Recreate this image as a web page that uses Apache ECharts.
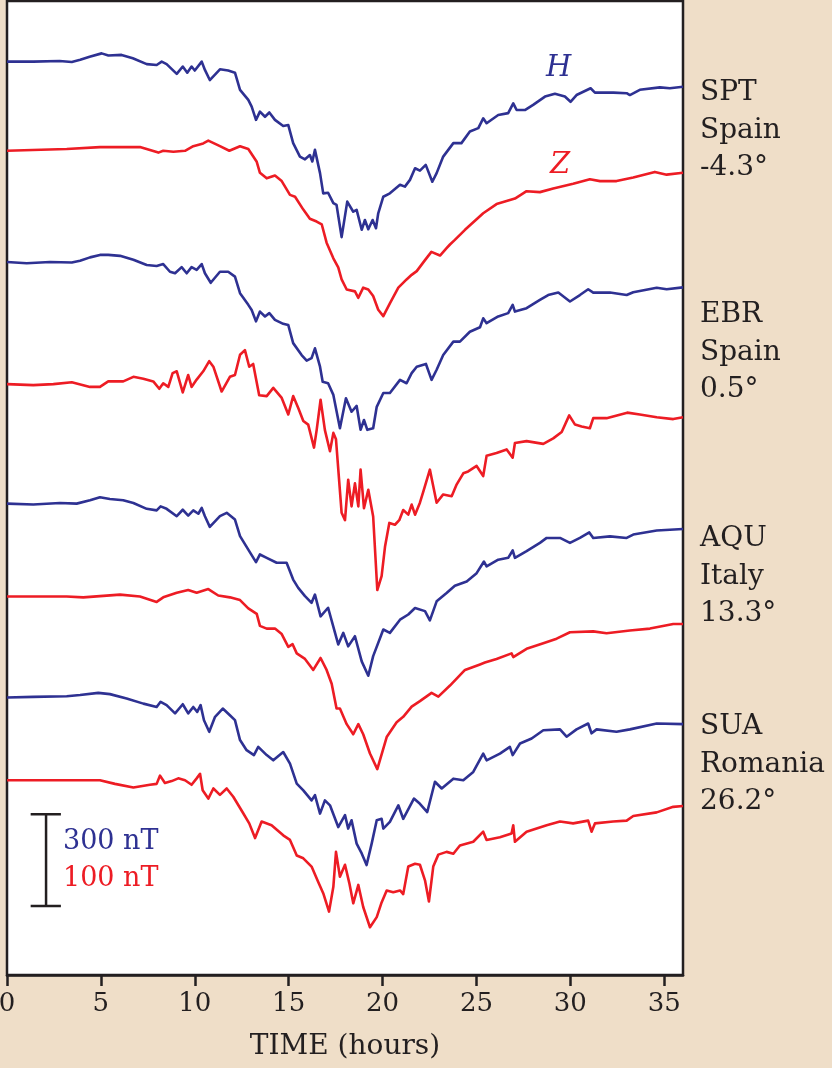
<!DOCTYPE html>
<html>
<head>
<meta charset="utf-8">
<title>Magnetic storm H and Z traces</title>
<script src="https://cdn.jsdelivr.net/npm/echarts@6/dist/echarts.min.js"></script>
<style>
  html, body { margin: 0; padding: 0; background: #efdec8; }
  #chart { width: 832px; height: 1068px; }
</style>
</head>
<body>
<div id="chart"></div>
<script>
// time (hours) vs deflection (nT), one pair list per trace
const sptH = [[0,0],[1.4,0],[2.8,2],[3.45,-1],[3.9,6],[4.4,16],[5.04,27],[5.4,20],[6.1,22],[6.7,11],[7.44,-8],[7.97,-11],[8.24,0],[8.5,-8],[9.04,-40],[9.36,-16],[9.6,-36],[9.83,-16],[10.0,-29],[10.37,0],[10.54,-27],[10.8,-60],[11.34,-25],[11.78,-29],[12.14,-36],[12.41,-92],[12.85,-125],[13.03,-147],[13.26,-190],[13.47,-163],[13.74,-180],[13.97,-166],[14.27,-190],[14.71,-210],[14.98,-207],[15.24,-266],[15.6,-310],[15.87,-319],[16.13,-305],[16.26,-326],[16.4,-288],[16.67,-364],[16.84,-430],[17.1,-428],[17.38,-462],[17.55,-468],[17.82,-573],[18.12,-457],[18.44,-490],[18.62,-484],[18.89,-549],[19.06,-517],[19.24,-547],[19.47,-517],[19.65,-544],[19.77,-495],[20.04,-441],[20.39,-430],[20.93,-402],[21.19,-408],[21.46,-386],[21.73,-348],[21.99,-356],[22.3,-337],[22.65,-392],[22.88,-364],[23.23,-310],[23.77,-266],[24.2,-266],[24.65,-228],[25.1,-217],[25.36,-185],[25.54,-201],[26.16,-174],[26.69,-168],[26.96,-136],[27.14,-158],[27.58,-158],[28.02,-141],[28.65,-114],[29.18,-105],[29.71,-114],[30.01,-131],[30.33,-109],[31.08,-87],[31.31,-101],[32.3,-101],[33.0,-103],[33.17,-109],[33.7,-92],[34.77,-84],[35.3,-87],[36,-82]];

const sptZ = [[0,0],[3.18,2],[4.95,4],[7.08,4],[8.06,-2],[8.32,0],[8.86,-1],[9.48,0],[9.92,5],[10.45,8],[10.72,11],[11.34,5],[11.84,0],[12.41,5],[12.85,2],[13.3,-12],[13.47,-24],[13.83,-30],[14.27,-27],[14.63,-33],[15.07,-48],[15.34,-50],[15.78,-64],[16.13,-74],[16.49,-77],[16.76,-80],[17.02,-100],[17.38,-117],[17.64,-127],[17.82,-140],[18.09,-151],[18.53,-153],[18.71,-160],[18.97,-149],[19.24,-151],[19.5,-158],[19.77,-173],[20.04,-180],[20.39,-166],[20.84,-149],[21.28,-140],[21.55,-135],[21.82,-131],[22.26,-119],[22.6,-110],[23.06,-114],[23.41,-106],[23.59,-102],[23.85,-97],[24.39,-86],[25.36,-68],[26.07,-58],[27.05,-52],[27.67,-44],[28.38,-45],[29.09,-41],[30.15,-36],[31.04,-31],[31.58,-33],[32.46,-33],[33.35,-29],[34.5,-23],[35.13,-26],[36,-24]];

const ebrH = [[0,0],[1.05,-4],[2.29,0],[3.45,-2],[3.89,4],[4.42,15],[4.95,23],[5.39,23],[6.02,20],[6.73,7],[7.44,-10],[7.97,-13],[8.32,-7],[8.68,-32],[8.95,-37],[9.3,-17],[9.57,-37],[9.83,-17],[10.1,-26],[10.37,-7],[10.54,-37],[10.85,-68],[11.34,-32],[11.78,-32],[12.14,-48],[12.41,-102],[12.85,-140],[13.03,-157],[13.26,-194],[13.47,-162],[13.74,-178],[13.97,-167],[14.27,-189],[14.71,-202],[14.98,-206],[15.24,-265],[15.69,-304],[15.96,-322],[16.22,-314],[16.4,-282],[16.67,-342],[16.81,-391],[17.1,-396],[17.38,-434],[17.73,-543],[18.05,-445],[18.35,-489],[18.62,-470],[18.83,-548],[19.01,-516],[19.19,-548],[19.5,-543],[19.69,-473],[20.04,-428],[20.39,-428],[20.93,-385],[21.28,-396],[21.55,-363],[21.82,-342],[22.31,-333],[22.61,-385],[22.88,-352],[23.23,-304],[23.77,-260],[24.12,-260],[24.65,-228],[25.19,-213],[25.36,-184],[25.54,-200],[26.16,-178],[26.69,-167],[26.93,-140],[27.05,-162],[27.67,-151],[28.38,-124],[28.82,-108],[29.36,-100],[29.98,-129],[30.51,-108],[30.95,-89],[31.22,-100],[32.11,-100],[33.0,-108],[33.35,-99],[34.6,-84],[35.13,-89],[36,-83]];

const ebrZ = [[0,0],[1.4,-1],[2.47,0],[3.45,2],[4.42,-3],[4.95,-3],[5.39,3],[6.19,3],[6.73,8],[7.26,6],[7.79,3],[8.11,-5],[8.32,1],[8.59,-3],[8.82,12],[9.04,14],[9.36,-9],[9.65,10],[9.83,-3],[10.1,5],[10.45,14],[10.77,25],[10.99,19],[11.43,-8],[11.87,8],[12.14,10],[12.41,32],[12.67,37],[12.9,19],[13.11,22],[13.43,-12],[13.83,-13],[14.18,-4],[14.63,-15],[14.98,-33],[15.24,-13],[15.51,-26],[15.78,-40],[16.04,-44],[16.35,-69],[16.49,-50],[16.7,-17],[16.93,-50],[17.2,-73],[17.38,-53],[17.52,-60],[17.82,-140],[18.0,-148],[18.17,-104],[18.35,-133],[18.53,-108],[18.71,-133],[18.83,-93],[19.01,-135],[19.24,-115],[19.5,-144],[19.72,-224],[19.95,-209],[20.13,-177],[20.36,-151],[20.66,-153],[20.89,-148],[21.1,-137],[21.37,-142],[21.55,-131],[21.73,-142],[21.99,-129],[22.17,-117],[22.52,-93],[22.67,-108],[22.88,-129],[23.23,-120],[23.68,-122],[23.95,-109],[24.3,-97],[24.56,-95],[25.01,-89],[25.36,-100],[25.54,-78],[26.07,-75],[26.61,-71],[26.93,-80],[27.05,-64],[27.67,-62],[28.56,-65],[29.09,-59],[29.54,-52],[29.94,-34],[30.25,-44],[30.6,-46],[31.04,-48],[31.22,-37],[31.93,-37],[33.03,-31],[33.7,-33],[34.6,-36],[35.48,-38],[36,-36]];

const aquH = [[0,0],[1.4,-3],[2.82,2],[3.71,0],[4.42,11],[4.95,21],[5.48,15],[6.19,11],[6.73,2],[7.44,-17],[7.97,-22],[8.18,-9],[8.5,-17],[9.04,-41],[9.36,-20],[9.65,-39],[9.92,-22],[10.19,-33],[10.37,-14],[10.54,-41],[10.8,-76],[11.34,-41],[11.7,-30],[12.14,-52],[12.41,-106],[12.85,-150],[13.26,-191],[13.47,-166],[13.83,-177],[14.36,-193],[14.89,-193],[15.24,-248],[15.51,-275],[15.87,-302],[16.22,-324],[16.4,-297],[16.7,-368],[17.1,-340],[17.47,-422],[17.64,-460],[17.91,-422],[18.17,-466],[18.53,-433],[18.89,-515],[19.24,-562],[19.5,-498],[20.04,-411],[20.39,-422],[20.93,-379],[21.37,-362],[21.73,-341],[22.26,-351],[22.52,-381],[22.88,-319],[23.41,-292],[23.85,-268],[24.48,-254],[25.01,-227],[25.4,-189],[25.54,-205],[26.16,-183],[26.69,-177],[26.93,-153],[27.05,-177],[27.67,-155],[28.38,-128],[28.74,-112],[29.45,-112],[29.98,-128],[30.51,-112],[31.01,-94],[31.22,-112],[32.11,-107],[33.0,-112],[33.35,-101],[34.6,-88],[36,-83]];

const aquZ = [[0,0],[1.4,0],[3.18,0],[4.06,-1],[6.02,2],[7.08,0],[7.97,-6],[8.32,-1],[9.04,4],[9.65,7],[10.1,4],[10.72,8],[11.25,1],[11.87,-1],[12.41,-4],[12.85,-13],[13.3,-19],[13.47,-32],[13.83,-35],[14.27,-35],[14.63,-41],[14.98,-55],[15.21,-52],[15.43,-62],[15.87,-68],[16.31,-80],[16.7,-67],[17.02,-80],[17.29,-95],[17.55,-122],[17.73,-122],[18.09,-139],[18.44,-150],[18.71,-139],[18.97,-150],[19.33,-171],[19.72,-188],[20.22,-153],[20.75,-137],[21.1,-131],[21.55,-120],[21.99,-114],[22.61,-105],[22.97,-109],[23.59,-97],[24.39,-80],[25.19,-74],[25.45,-72],[26.07,-68],[26.87,-62],[26.96,-66],[27.67,-57],[28.56,-51],[29.27,-46],[29.98,-39],[31.22,-38],[31.93,-40],[33.17,-37],[34.24,-35],[35.48,-30],[36,-30]];

const suaH = [[0,0],[1.4,2],[3.18,4],[3.89,8],[4.86,15],[5.48,11],[6.37,-3],[7.26,-20],[7.97,-31],[8.18,-14],[8.5,-25],[8.95,-52],[9.36,-22],[9.65,-52],[9.92,-31],[10.13,-47],[10.31,-25],[10.49,-74],[10.77,-112],[11.08,-63],[11.49,-36],[11.87,-58],[12.14,-74],[12.41,-139],[12.76,-172],[13.15,-188],[13.38,-161],[13.83,-188],[14.18,-205],[14.71,-178],[15.07,-216],[15.43,-281],[15.78,-303],[16.22,-336],[16.4,-319],[16.67,-379],[16.93,-336],[17.2,-352],[17.64,-423],[18.0,-384],[18.17,-428],[18.35,-401],[18.62,-477],[18.89,-509],[19.15,-547],[19.42,-477],[19.69,-401],[19.95,-396],[20.04,-428],[20.39,-406],[20.84,-352],[21.1,-396],[21.67,-330],[21.99,-347],[22.38,-374],[22.79,-275],[23.15,-297],[23.77,-265],[24.3,-270],[24.83,-243],[25.36,-183],[25.54,-205],[26.25,-183],[26.78,-161],[26.93,-188],[27.32,-150],[27.94,-134],[28.56,-107],[29.45,-104],[29.8,-128],[30.33,-104],[30.95,-85],[31.13,-117],[31.4,-104],[32.46,-112],[33.17,-104],[34.6,-85],[36,-87]];

const suaZ = [[0,0],[1.4,0],[3.18,0],[4.95,0],[5.75,-4],[6.73,-8],[7.61,-5],[7.97,-4],[8.15,5],[8.41,-3],[8.77,-1],[9.12,2],[9.48,0],[9.83,-5],[10.1,2],[10.28,7],[10.42,-11],[10.72,-20],[10.99,-9],[11.34,-16],[11.7,-9],[12.05,-18],[12.58,-36],[12.9,-47],[13.21,-63],[13.56,-45],[14.09,-49],[14.71,-60],[15.07,-65],[15.24,-73],[15.43,-82],[15.78,-85],[16.22,-94],[16.58,-111],[16.84,-123],[17.15,-143],[17.38,-116],[17.52,-78],[17.73,-105],[18.0,-92],[18.23,-112],[18.44,-134],[18.71,-114],[18.97,-138],[19.33,-160],[19.69,-149],[19.95,-133],[20.22,-120],[20.57,-122],[20.93,-120],[21.1,-124],[21.37,-94],[21.73,-91],[21.99,-92],[22.26,-109],[22.47,-132],[22.7,-94],[22.97,-81],[23.41,-78],[23.77,-80],[24.12,-71],[24.83,-67],[25.36,-56],[25.54,-65],[26.25,-62],[26.87,-58],[26.96,-49],[27.05,-67],[27.67,-56],[28.74,-49],[29.45,-45],[30.15,-47],[30.95,-44],[31.13,-56],[31.31,-47],[32.28,-45],[33.0,-44],[33.35,-39],[34.6,-35],[35.48,-29],[36,-28]];

const stationNames = ['SPT', 'EBR', 'AQU', 'SUA'];
const stationCountries = ['Spain', 'Spain', 'Italy', 'Romania'];
const stationLatitudes = ['-4.3°', '0.5°', '13.3°', '26.2°'];
const xTicks = [0, 5, 10, 15, 20, 25, 30, 35];
const scaleH = 300; // nT for the blue H traces
const scaleZ = 100; // nT for the red Z traces

// plotting: 1 unit on y = 1 nT of Z = 3 nT of H; each trace sits on its own baseline
const BLUE = '#2e3192', RED = '#ed1c24', INK = '#231f20';
const traces = [
  { data: sptH, base: 994, comp: 'H' },
  { data: sptZ, base: 897, comp: 'Z' },
  { data: ebrH, base: 776, comp: 'H' },
  { data: ebrZ, base: 643, comp: 'Z' },
  { data: aquH, base: 513, comp: 'H' },
  { data: aquZ, base: 412, comp: 'Z' },
  { data: suaH, base: 302, comp: 'H' },
  { data: suaZ, base: 212, comp: 'Z' }
];
const hPerUnit = scaleH / scaleZ;

const series = traces.map(tr => ({
  type: 'line',
  showSymbol: false,
  silent: true,
  animation: false,
  lineStyle: { width: 2.6, color: tr.comp === 'H' ? BLUE : RED, join: 'round' },
  data: tr.data.map(([t, v]) => [t, tr.base + (tr.comp === 'H' ? v / hPerUnit : v)])
}));

// scale bar: 100 y-units long (= 300 nT H, 100 nT Z)
const barT = 2.08, barBottom = 75, barTop = barBottom + scaleZ;
series.push({
  type: 'line',
  showSymbol: false,
  silent: true,
  animation: false,
  lineStyle: { width: 2.5, color: INK },
  data: [[1.26, barTop], [2.87, barTop], [barT, barTop], [barT, barBottom], [1.26, barBottom], [2.87, barBottom]]
});

const labelFont = 'DejaVu Serif';
const stationTops = [74, 296, 520, 708];
const graphic = stationNames.map((name, i) => ({
  type: 'text',
  left: 700,
  top: stationTops[i],
  style: {
    text: name + '\n' + stationCountries[i] + '\n' + stationLatitudes[i],
    font: '28px "' + labelFont + '"',
    lineHeight: 37.5,
    fill: INK
  }
}));
graphic.push(
  { type: 'text', left: 546, top: 54, style: { text: 'H', font: 'italic 29px "' + labelFont + '"', fill: BLUE } },
  { type: 'text', left: 550, top: 151, style: { text: 'Z', font: 'italic 29px "' + labelFont + '"', fill: RED } },
  { type: 'text', left: 63, top: 828, style: { text: scaleH + ' nT', font: '27px "' + labelFont + '"', fill: BLUE } },
  { type: 'text', left: 63, top: 865, style: { text: scaleZ + ' nT', font: '27px "' + labelFont + '"', fill: RED } }
);

const chart = echarts.init(document.getElementById('chart'), null, { renderer: 'canvas' });
chart.setOption({
  backgroundColor: '#efdec8',
  animation: false,
  grid: {
    left: 7, right: 149, top: 1, bottom: 93,
    containLabel: false,
    outerBoundsMode: 'none',
    show: true, backgroundColor: '#ffffff',
    borderColor: INK, borderWidth: 2.5
  },
  xAxis: {
    type: 'value',
    min: 0, max: 36,
    name: 'TIME (hours)',
    nameLocation: 'middle',
    nameGap: 58,
    nameTextStyle: { fontFamily: labelFont, fontSize: 28, color: INK },
    axisLine: { show: true, lineStyle: { color: INK, width: 2.5 } },
    axisTick: { show: true, length: 11, customValues: xTicks, lineStyle: { color: INK, width: 2.5 } },
    axisLabel: { customValues: xTicks, fontFamily: labelFont, fontSize: 26, color: INK, margin: 16 },
    splitLine: { show: false }
  },
  yAxis: {
    type: 'value',
    min: 0, max: 1060,
    show: false,
    splitLine: { show: false }
  },
  graphic: graphic,
  series: series
});
</script>
</body>
</html>
